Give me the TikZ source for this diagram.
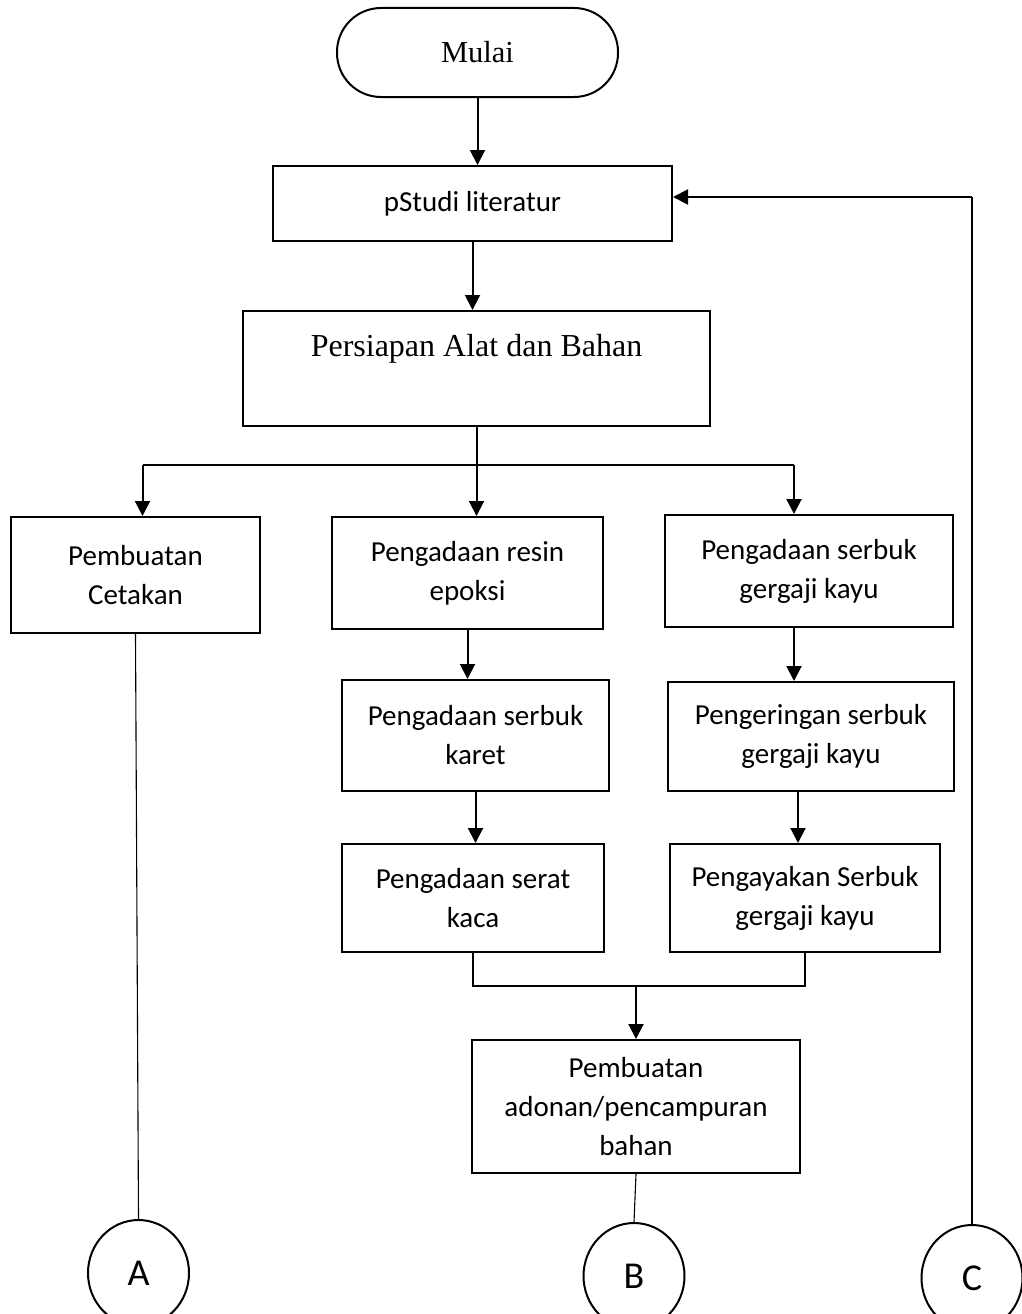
\documentclass[tikz,border=0pt]{standalone}
\usepackage{fontspec}
\setmainfont{Carlito}
\newfontfamily\timesfont{Liberation Serif}
\usepackage{tikz}
\usetikzlibrary{arrows.meta,shapes.geometric,calc}

\begin{document}
\begin{tikzpicture}[x=1pt,y=-1pt,
  proses/.style={draw,line width=2pt,align=center,inner sep=2pt,
    font=\fontsize{29}{39}\selectfont},
  alur/.style={line width=2pt,-{Triangle[width=15pt,length=15pt]}},
  garis/.style={line width=1.1pt},
  konektor/.style={ellipse,draw,line width=2pt,minimum width=101pt,minimum height=106pt,
    inner sep=0pt,font=\fontsize{38}{40}\selectfont}]
  \fill[white] (0,0) rectangle (1022,1314);
  \useasboundingbox (0,0) rectangle (1022,1314);

  \node[draw,line width=2pt,rounded corners=44pt,minimum width=281pt,minimum height=89pt,
    font=\timesfont\fontsize{30.5}{36}\selectfont] (mulai) at (477.5,52.5) {Mulai};
  \node[proses,minimum width=399pt,minimum height=75pt] (studi) at (472.5,203.5)
    {pStudi literatur};
  \node[proses,minimum width=467pt,minimum height=115pt,
    font=\timesfont\fontsize{32}{38}\selectfont] (persiapan) at (476.5,368.5)
    {Persiapan Alat dan Bahan\\[8pt]\mbox{}};

  \node[proses,minimum width=249pt,minimum height=116pt] (cetak) at (135.5,575)
    {Pembuatan\\Cetakan};
  \node[proses,minimum width=271pt,minimum height=112pt] (resin) at (467.5,573)
    {Pengadaan resin\\epoksi};
  \node[proses,minimum width=288pt,minimum height=112pt] (kayu) at (809,571)
    {Pengadaan serbuk\\gergaji kayu};
  \node[proses,minimum width=267pt,minimum height=111pt] (karet) at (475.5,735.5)
    {Pengadaan serbuk\\karet};
  \node[proses,minimum width=286pt,minimum height=109pt] (kering) at (811,736.5)
    {Pengeringan serbuk\\gergaji kayu};
  \node[proses,minimum width=262pt,minimum height=108pt] (serat) at (473,898)
    {Pengadaan serat\\kaca};
  \node[proses,minimum width=270pt,minimum height=108pt] (ayak) at (805,898)
    {Pengayakan Serbuk\\gergaji kayu};
  \node[proses,minimum width=328pt,minimum height=133pt] (adonan) at (636,1106.5)
    {Pembuatan\\adonan/pencampuran\\bahan};

  \node[konektor] (A) at (138.5,1273) {A};
  \node[konektor] (B) at (634,1276) {B};
  \node[konektor] (C) at (972,1278) {C};

  % alur utama
  \draw[alur] (mulai.south) -- (mulai.south |- studi.north);
  \draw[alur] (studi.south) -- (studi.south |- persiapan.north);

  % percabangan
  \coordinate (bagi) at (476,465);
  \coordinate (kiri) at ([xshift=7pt]cetak.north);
  \coordinate (kanan) at ([xshift=-15pt]kayu.north);
  \draw[alur] (persiapan.south) -- (persiapan.south |- resin.north);
  \draw[garis] (kiri |- bagi) -- (kanan |- bagi);
  \draw[alur] (kiri |- bagi) -- (kiri);
  \draw[alur] (kanan |- bagi) -- (kanan);

  \draw[alur] (resin.south) -- (resin.south |- karet.north);
  \draw[alur] (karet.south) -- (karet.south |- serat.north);
  \coordinate (kanan2) at ([xshift=-15pt]kayu.south);
  \coordinate (kanan3) at ([xshift=-13pt]kering.south);
  \draw[alur] (kanan2) -- (kanan2 |- kering.north);
  \draw[alur] (kanan3) -- (kanan3 |- ayak.north);

  % penggabungan
  \coordinate (gabung) at (637,986);
  \draw[garis] (serat.south) -- (serat.south |- gabung) -- (ayak.south |- gabung) -- (ayak.south);
  \draw[alur] (adonan.north |- gabung) -- (adonan.north);

  % ke konektor
  \draw[garis] (cetak.south) -- (A.north);
  \draw[garis] (adonan.south) -- (B.north);
  \coordinate (balik) at (970,197);
  \draw[garis] (C.north) -- (C.north |- balik);
  \draw[alur] (C.north |- balik) -- (studi.east |- balik);
\end{tikzpicture}
\end{document}
